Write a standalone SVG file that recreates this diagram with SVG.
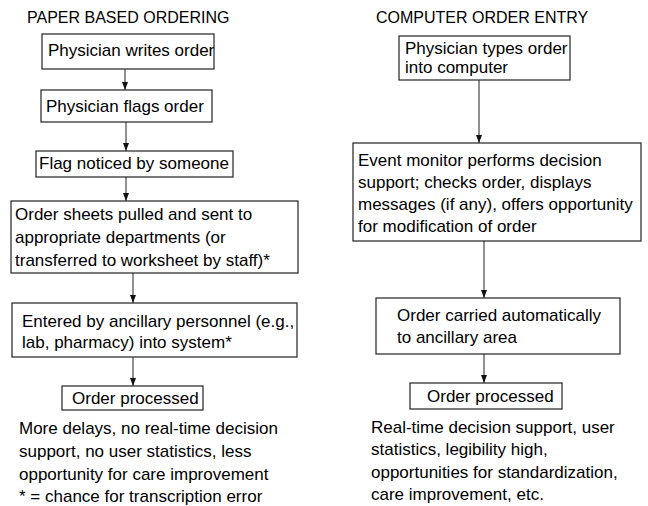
<svg xmlns="http://www.w3.org/2000/svg" width="648" height="506" viewBox="0 0 648 506">
<defs>
<marker id="ah" markerWidth="8" markerHeight="6" refX="8" refY="3" orient="auto" markerUnits="userSpaceOnUse" viewBox="0 0 8 6">
<path d="M0,0 L8,3 L0,6 Z" fill="#111"/>
</marker>
<style>
text{font-family:"Liberation Sans",Arial,sans-serif;fill:#000;font-size:17px}
.title{font-size:16px}
rect{fill:#fff;stroke:#222;stroke-width:1.2}
.con line{stroke:#222;stroke-width:1}
</style>
</defs>
<rect x="0" y="0" width="648" height="506" style="fill:#fff;stroke:none"/>
<text class="title" x="27" y="23">PAPER BASED ORDERING</text>
<text class="title" x="376" y="23">COMPUTER ORDER ENTRY</text>

<g class="con">
<line x1="125" y1="69" x2="125" y2="90" marker-end="url(#ah)"/>
<line x1="126" y1="122" x2="126" y2="151" marker-end="url(#ah)"/>
<line x1="126" y1="177" x2="126" y2="201" marker-end="url(#ah)"/>
<line x1="133" y1="273" x2="133" y2="303" marker-end="url(#ah)"/>
<line x1="133" y1="357" x2="133" y2="386" marker-end="url(#ah)"/>
<line x1="479" y1="80" x2="479" y2="143" marker-end="url(#ah)"/>
<line x1="484" y1="241" x2="484" y2="298" marker-end="url(#ah)"/>
<line x1="484" y1="354" x2="484" y2="383" marker-end="url(#ah)"/>
</g>

<g id="p1"><rect x="42" y="34" width="172" height="35"/><text x="48" y="56">Physician writes order</text></g>
<g id="p2"><rect x="41" y="90" width="171" height="32"/><text x="46" y="112">Physician flags order</text></g>
<g id="p3"><rect x="36" y="151" width="197" height="26"/><text x="39" y="169">Flag noticed by someone</text></g>
<g id="p4"><rect x="11" y="201" width="287" height="72"/>
<text x="15" y="220">Order sheets pulled and sent to</text>
<text x="15" y="243">appropriate departments (or</text>
<text x="15" y="266">transferred to worksheet by staff)*</text></g>
<g id="p5"><rect x="12" y="303" width="285" height="54"/>
<text x="22" y="327">Entered by ancillary personnel (e.g.,</text>
<text x="22" y="348">lab, pharmacy) into system*</text></g>
<g id="p6"><rect x="62" y="386" width="141" height="24"/><text x="72" y="404">Order processed</text></g>
<g id="pnote">
<text x="19" y="434">More delays, no real-time decision</text>
<text x="19" y="457">support, no user statistics, less</text>
<text x="19" y="480">opportunity for care improvement</text>
<text x="19" y="502">* = chance for transcription error</text>
</g>

<g id="c1"><rect x="399" y="36" width="171" height="44"/>
<text x="405" y="54">Physician types order</text>
<text x="405" y="73">into computer</text></g>
<g id="c2"><rect x="353" y="143" width="288" height="98"/>
<text x="358" y="166">Event monitor performs decision</text>
<text x="358" y="188">support; checks order, displays</text>
<text x="358" y="210">messages (if any), offers opportunity</text>
<text x="358" y="232">for modification of order</text></g>
<g id="c3"><rect x="376" y="298" width="244" height="56"/>
<text x="397" y="321">Order carried automatically</text>
<text x="397" y="343">to ancillary area</text></g>
<g id="c4"><rect x="410" y="383" width="152" height="26"/><text x="427" y="402">Order processed</text></g>
<g id="cnote">
<text x="371" y="433">Real-time decision support, user</text>
<text x="371" y="455">statistics, legibility high,</text>
<text x="371" y="478">opportunities for standardization,</text>
<text x="371" y="500">care improvement, etc.</text>
</g>
</svg>
